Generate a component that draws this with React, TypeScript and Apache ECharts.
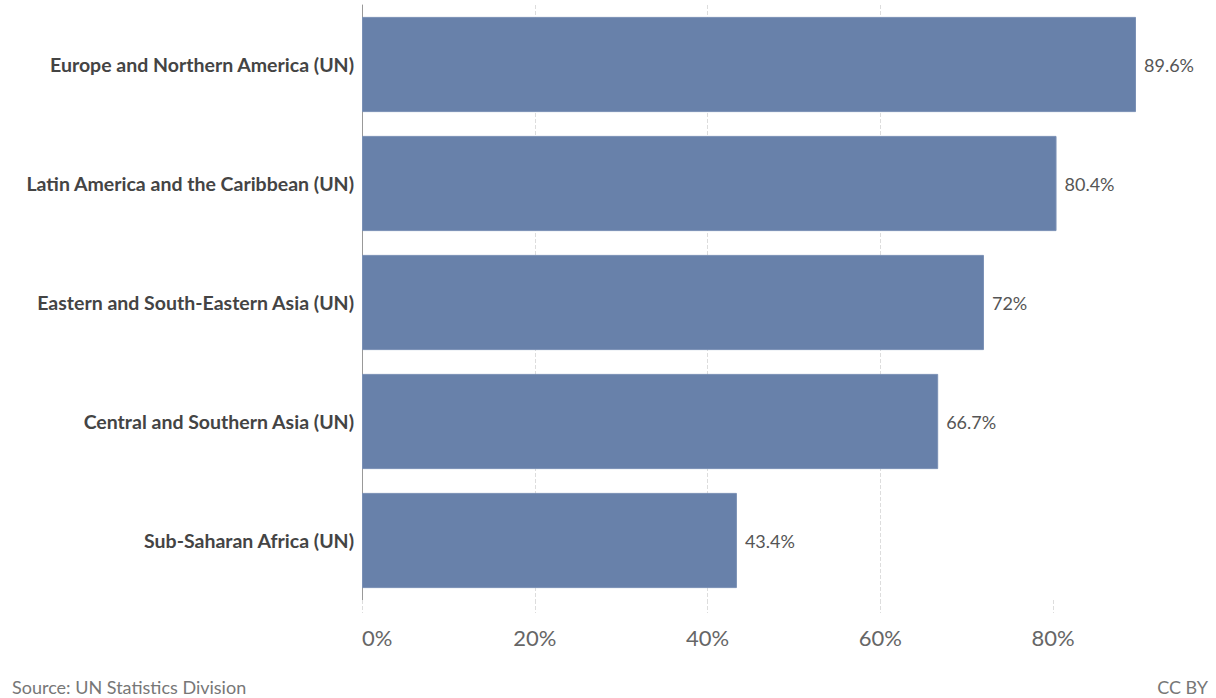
import React, { useEffect, useRef } from "react";
import * as echarts from "echarts";

const categories = [
  "Europe and Northern America (UN)",
  "Latin America and the Caribbean (UN)",
  "Eastern and South-Eastern Asia (UN)",
  "Central and Southern Asia (UN)",
  "Sub-Saharan Africa (UN)",
];
const values = [89.6, 80.4, 72, 66.7, 43.4];
const tickValues = [0, 20, 40, 60, 80];
const sourceText = "Source: UN Statistics Division";
const licenseText = "CC BY";

export default function App() {
  const ref = useRef<HTMLDivElement>(null);
  useEffect(() => {
    document.body.style.margin = "0";
    const chart = echarts.init(ref.current!, null, { renderer: "svg" });
    chart.setOption({
      animation: false,
      textStyle: { fontFamily: "Lato" },
      grid: { left: 362, right: 80, top: 5, bottom: 98, containLabel: false },
      xAxis: {
        type: "value",
        min: 0,
        max: Math.max(...values),
        interval: 20,
        axisLine: { show: false },
        axisTick: {
          show: true,
          length: 13,
          customValues: tickValues,
          lineStyle: { color: "#dddddd", type: "dashed" },
        },
        splitLine: {
          show: true,
          showMaxLine: false,
          lineStyle: { color: "#dddddd", type: "dashed" },
        },
        axisLabel: {
          margin: 26,
          fontSize: 22,
          color: "#666666",
          fontFamily: "Lato",
          alignMinLabel: "left",
          customValues: tickValues,
          formatter: (v: number) => (tickValues.includes(v) ? v + "%" : ""),
        },
      },
      yAxis: {
        type: "category",
        data: categories,
        inverse: true,
        axisLine: { show: true, lineStyle: { color: "#999999", width: 1 } },
        axisTick: { show: false },
        axisLabel: {
          margin: 8,
          fontSize: 19.5,
          fontWeight: "bold",
          color: "#444444",
          fontFamily: "Lato",
        },
      },
      series: [
        {
          type: "bar",
          data: values,
          barCategoryGap: "20%",
          itemStyle: { color: "#6881aa", borderColor: "#7a90b5", borderWidth: 1 },
          label: {
            show: true,
            position: "right",
            distance: 8,
            fontSize: 18,
            color: "#555555",
            fontFamily: "Lato",
            formatter: (p: any) => p.value + "%",
          },
        },
      ],
      graphic: [
        {
          type: "text",
          left: 12,
          top: 678,
          style: { text: sourceText, fontSize: 18, fill: "#777777", fontFamily: "Lato" },
        },
        {
          type: "text",
          right: 8,
          top: 678,
          style: { text: licenseText, fontSize: 18, fill: "#777777", fontFamily: "Lato" },
        },
      ],
    });
    return () => chart.dispose();
  }, []);
  return (
    <div
      ref={ref}
      style={{ position: "absolute", left: 0, top: 0, width: 1216, height: 698 }}
    />
  );
}
